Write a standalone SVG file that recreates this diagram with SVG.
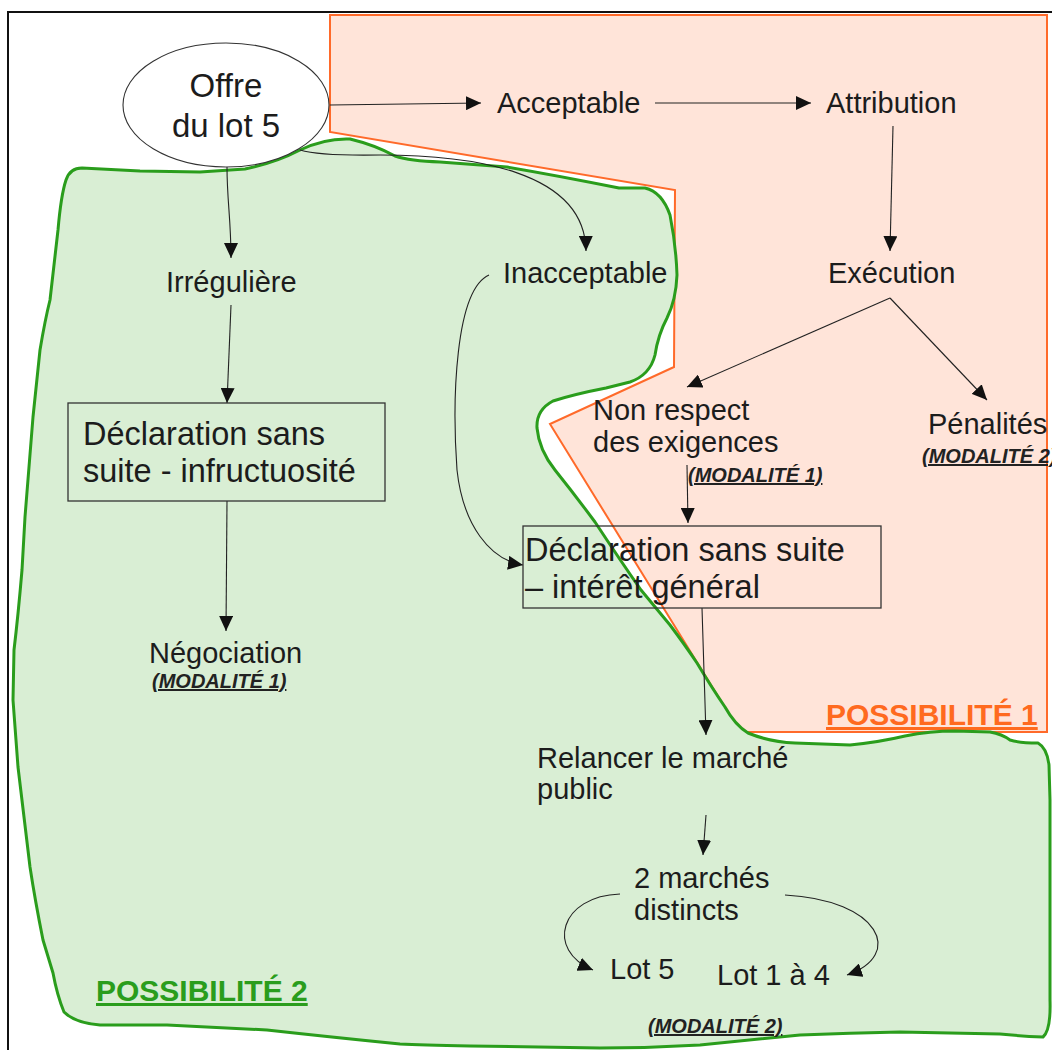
<svg xmlns="http://www.w3.org/2000/svg" width="1052" height="1050" viewBox="0 0 1052 1050">
<defs>
<marker id="ah" markerUnits="userSpaceOnUse" markerWidth="16" markerHeight="14" refX="15" refY="7" orient="auto">
<path d="M0,0 L15,7 L0,14 z" fill="#111"/>
</marker>
<style>
text{font-family:"Liberation Sans",Arial,sans-serif;fill:#1c1c1c}
.n{font-size:29px}
.b{font-size:32.5px}
.o{font-size:33px}
.m{font-size:20px;font-weight:bold;font-style:italic;text-decoration:underline;fill:#222}
.p{font-size:30px;font-weight:bold;text-decoration:underline}
.c{fill:none;stroke:#222;stroke-width:1.1;marker-end:url(#ah)}
.box{fill:none;stroke:#333;stroke-width:1.3}
</style>
</defs>
<rect width="1052" height="1050" fill="#fff"/>
<rect x="8" y="12" width="1100" height="1100" fill="none" stroke="#111" stroke-width="2"/>

<g id="possibilite1">
<path d="M330,15 L1047,15 L1047,732 L740,732 L550,424 L674,367 L675,190 L330,132 Z" fill="#ffe4d9" stroke="#ff6a2a" stroke-width="2"/>
<text class="p" x="826" y="725" style="fill:#ff6a1f">POSSIBILITÉ 1</text>
</g>

<g id="possibilite2">
<path d="M66,180 Q70,168 82,168 L140,171 L200,172 L245,169 Q275,163 300,150 Q325,138 350,139 Q375,145 395,156 Q410,161 440,162 L507,167 Q560,176 619,188 L645,188 Q662,192 670,215 Q676,245 677,275 Q676,300 667,318 Q658,335 655,355 Q650,375 630,382 L606,388 Q575,394 553,401 Q536,410 537,428 Q539,450 555,470 Q575,495 595,522 Q620,560 641,590 L670,625 Q685,645 697,663 Q712,688 725,707 Q735,725 748,733 Q770,742 795,743 L850,745 Q880,742 905,736 Q930,731 955,731 L990,732 Q1002,734 1010,740 Q1020,743 1038,743 Q1047,748 1049,765 L1050,800 L1050,1000 Q1051,1030 1043,1037 Q1020,1036 1000,1034 L900,1032 Q850,1033 800,1035 Q750,1040 700,1045 Q650,1048 600,1048 L470,1046 Q420,1045 400,1044 Q330,1037 267,1030 L167,1025 L100,1025 Q75,1023 64,1012 Q57,995 53,973 L43,940 Q35,900 30,867 L18,767 L13,700 L14,650 Q18,617 22,570 L25,517 L33,417 L40,350 Q45,320 50,300 L58,230 Q61,195 66,180 Z" fill="#d9eed4" stroke="#2a9d1c" stroke-width="3" stroke-linejoin="round"/>
<text class="p" x="96" y="1001" style="fill:#2a9d1c">POSSIBILITÉ 2</text>
</g>

<g id="connectors">
<path class="c" d="M330,105 L481,103"/>
<path class="c" d="M655,103 L811,103"/>
<path class="c" d="M893,126 L890,251"/>
<path class="c" d="M890,298 L687,387"/>
<path class="c" d="M890,298 L987,400"/>
<path class="c" d="M227,167 C227,200 231,220 231,258"/>
<path class="c" d="M231,305 L227,403"/>
<path class="c" d="M227,501 L226,631"/>
<path class="c" d="M300,150 Q320,156 380,155 C470,155 585,170 586,251"/>
<path class="c" d="M489,275 C455,290 452,400 457,470 C463,525 490,560 523,565"/>
<path class="c" d="M687,465 L688,523"/>
<path class="c" d="M702,608 L706,735"/>
<path class="c" d="M706,815 L703,855"/>
<path class="c" d="M620,894 C560,896 545,950 593,970"/>
<path class="c" d="M785,895 C880,900 905,955 847,975"/>
</g>

<g id="offre">
<ellipse cx="226" cy="105" rx="103" ry="62" fill="#fff" stroke="#333" stroke-width="1.1"/>
<text class="o" x="226" y="97" text-anchor="middle">Offre</text>
<text class="o" x="226" y="137" text-anchor="middle">du lot 5</text>
</g>
<g id="acceptable"><text class="n" x="497" y="113">Acceptable</text></g>
<g id="attribution"><text class="n" x="826" y="113">Attribution</text></g>
<g id="execution"><text class="n" x="828" y="283">Exécution</text></g>
<g id="irreguliere"><text class="n" x="166" y="292">Irrégulière</text></g>
<g id="inacceptable"><text class="n" x="503" y="283">Inacceptable</text></g>
<g id="nonrespect">
<text class="n" x="593" y="420">Non respect</text>
<text class="n" x="593" y="452">des exigences</text>
<text class="m" x="688" y="482">(MODALITÉ 1)</text>
</g>
<g id="penalites">
<text class="n" x="928" y="434">Pénalités</text>
<text class="m" x="922" y="463">(MODALITÉ 2)</text>
</g>
<g id="declaration1">
<rect class="box" x="68" y="403" width="317" height="98"/>
<text class="b" x="83" y="445">Déclaration sans</text>
<text class="b" x="83" y="482">suite - infructuosité</text>
</g>
<g id="declaration2">
<rect class="box" x="523" y="526" width="358" height="82"/>
<text class="b" x="525" y="561">Déclaration sans suite</text>
<text class="b" x="525" y="598">– intérêt général</text>
</g>
<g id="negociation">
<text class="n" x="149" y="663">Négociation</text>
<text class="m" x="152" y="688">(MODALITÉ 1)</text>
</g>
<g id="relancer">
<text class="n" x="537" y="768">Relancer le marché</text>
<text class="n" x="537" y="799">public</text>
</g>
<g id="deuxmarches">
<text class="n" x="634" y="888">2 marchés</text>
<text class="n" x="634" y="920">distincts</text>
</g>
<g id="lot5"><text class="n" x="610" y="979">Lot 5</text></g>
<g id="lot14"><text class="n" x="717" y="985">Lot 1 à 4</text></g>
<g id="modalite2"><text class="m" x="648" y="1033">(MODALITÉ 2)</text></g>
</svg>
